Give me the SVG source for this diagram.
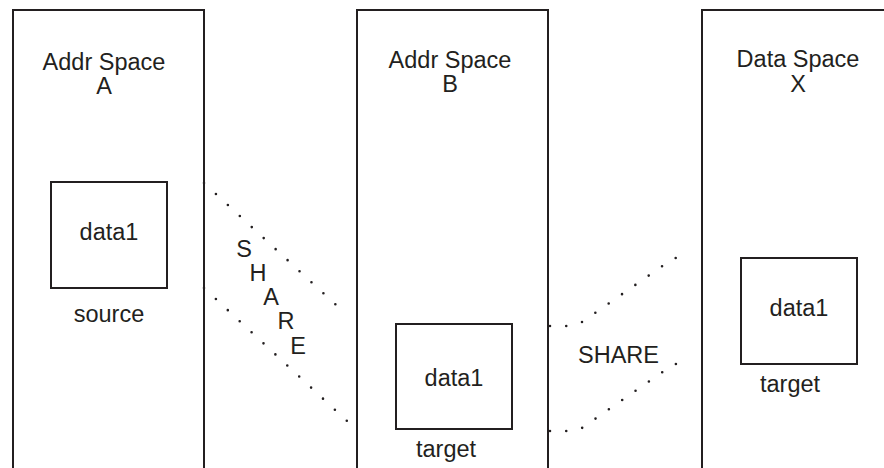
<svg xmlns="http://www.w3.org/2000/svg" width="884" height="468" viewBox="0 0 884 468">
<style>
.box{fill:none;stroke:#231f20;stroke-width:2}
.t{font-family:"Liberation Sans",Arial,sans-serif;font-size:23.5px;fill:#231f20;text-anchor:middle}
.dot{fill:none;stroke:#231f20;stroke-width:2.6;stroke-linecap:round;stroke-dasharray:0 16.25}
</style>
<rect width="884" height="468" fill="#fff"/>
<g id="spaceA">
<rect class="box" x="13" y="10" width="191" height="480"/>
<text class="t" x="104" y="70">Addr Space</text>
<text class="t" x="104" y="94">A</text>
</g>
<g id="dataA">
<rect class="box" x="51" y="182" width="116" height="106"/>
<text class="t" x="109" y="240">data1</text>
<text class="t" x="109" y="322">source</text>
</g>
<g id="spaceB">
<rect class="box" x="357" y="10" width="191" height="480"/>
<text class="t" x="450" y="68">Addr Space</text>
<text class="t" x="450" y="92">B</text>
</g>
<g id="dataB">
<rect class="box" x="396" y="324" width="116" height="105"/>
<text class="t" x="454" y="386">data1</text>
<text class="t" x="446" y="457">target</text>
</g>
<g id="spaceX">
<rect class="box" x="702" y="10" width="200" height="480"/>
<text class="t" x="798" y="67">Data Space</text>
<text class="t" x="798" y="92">X</text>
</g>
<g id="dataX">
<rect class="box" x="741" y="258" width="116" height="106"/>
<text class="t" x="799" y="316">data1</text>
<text class="t" x="790" y="392">target</text>
</g>
<g id="connectors">
<path class="dot" d="M204,183 L347,315"/>
<path class="dot" d="M204,288 L347,421"/>
<path class="dot" d="M550,326 L566,326 L582,322 L674,258 L690,258"/>
<path class="dot" d="M550,431 L566,431 L582,428 L674,364 L690,364"/>
<text class="t" x="244" y="257">S</text>
<text class="t" x="258" y="281">H</text>
<text class="t" x="271" y="305">A</text>
<text class="t" x="286" y="329">R</text>
<text class="t" x="298" y="354">E</text>
<text class="t" x="618.5" y="363">SHARE</text>
</g>
</svg>
